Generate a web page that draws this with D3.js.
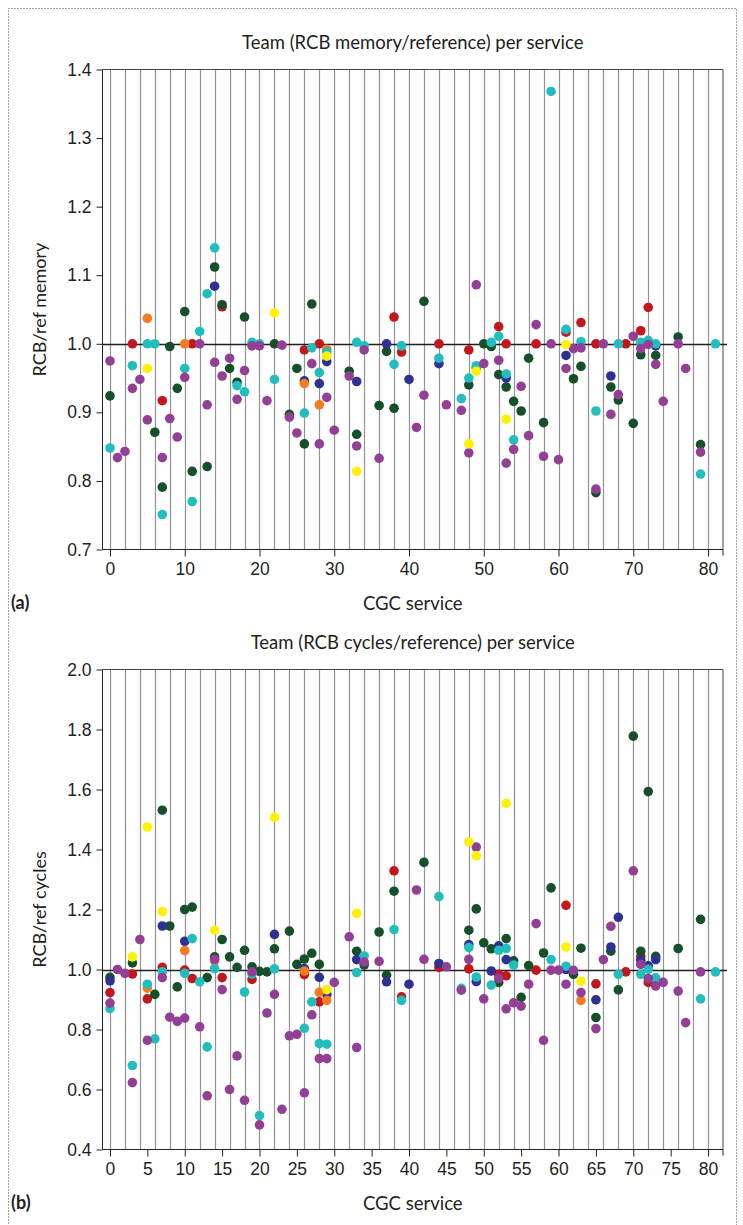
<!DOCTYPE html>
<html>
<head>
<meta charset="utf-8">
<script src="https://cdn.jsdelivr.net/npm/d3@7"></script>
<style>
  body { margin: 0; background: #fff; }
  svg { display: block; font-family: Lato, "Noto Sans", sans-serif; }
  .axis path, .axis line { stroke: #222; }
  .axis text { font-size: 17.5px; fill: #231f20; }
</style>
</head>
<body>
<script>
(function(){

//tick values for both panels
var memTicksX = [0, 10, 20, 30, 40, 50, 60, 70, 80];
var cycTicksX = [0, 5, 10, 15, 20, 25, 30, 35, 40, 45, 50, 55, 60, 65, 70, 75, 80];
var memTicksY = [0.7, 0.8, 0.9, 1.0, 1.1, 1.2, 1.3, 1.4];
var cycTicksY = [0.4, 0.6, 0.8, 1.0, 1.2, 1.4, 1.6, 1.8, 2.0];
var gridX = d3.range(0, 81, 2); //grey service lines every other service

//team colours (same order as the series arrays below)
var teamColors = ["#c1171d", "#15502a", "#2e3192", "#f47b20", "#22bebe", "#943f96", "#fff200"];

//panel (a): [service, RCB/ref memory]
var memRed = [[3,1.0],[7,0.917],[11,1.0],[15,1.054],[26,0.991],[28,1.0],[38,1.039],[39,0.988],[44,1.0],[48,0.991],[52,1.025],[53,1.0],[57,1.0],[61,1.017],[63,1.031],[65,1.0],[69,1.0],[71,1.019],[72,1.053]];
var memGreen = [[0,0.924],[6,0.871],[7,0.791],[8,0.996],[9,0.935],[10,1.047],[11,0.814],[13,0.821],[14,1.112],[15,1.057],[16,0.964],[17,0.944],[18,1.039],[22,1.0],[24,0.897],[25,0.964],[26,0.854],[27,1.058],[32,0.96],[33,0.868],[36,0.91],[37,0.989],[38,0.906],[42,1.062],[48,0.94],[49,0.965],[50,1.0],[51,0.996],[52,0.955],[53,0.937],[54,0.916],[55,0.902],[56,0.979],[58,0.885],[62,0.949],[63,0.967],[65,0.783],[67,0.937],[68,0.918],[70,0.884],[71,0.984],[73,0.983],[76,1.01],[79,0.853]];
var memNavy = [[14,1.084],[26,0.946],[28,0.942],[29,0.974],[33,0.945],[37,1.0],[40,0.948],[44,0.971],[53,0.95],[61,0.983],[67,0.953],[73,0.997]];
var memOrange = [[5,1.037],[10,1.0],[26,0.942],[28,0.911],[29,0.992]];
var memCyan = [[0,0.848],[3,0.968],[5,1.0],[6,1.0],[7,0.751],[10,0.964],[11,0.77],[12,1.018],[13,1.073],[14,1.14],[17,0.939],[18,0.93],[19,1.002],[20,1.0],[22,0.948],[26,0.899],[27,0.994],[28,0.958],[29,0.988],[33,1.002],[34,0.997],[38,0.97],[39,0.997],[44,0.979],[47,0.92],[48,0.95],[49,0.968],[51,1.002],[52,1.011],[53,0.956],[54,0.86],[59,1.368],[61,1.021],[63,1.003],[65,0.902],[68,1.0],[71,1.002],[72,1.005],[73,1.0],[79,0.81],[81,1.0]];
var memPurple = [[0,0.975],[1,0.834],[2,0.843],[3,0.935],[4,0.948],[5,0.889],[7,0.834],[8,0.891],[9,0.864],[10,0.951],[12,1.0],[13,0.911],[14,0.973],[15,0.953],[16,0.979],[17,0.919],[18,0.961],[19,0.997],[20,0.997],[21,0.917],[23,0.998],[24,0.893],[25,0.87],[27,0.971],[28,0.854],[29,0.922],[30,0.874],[32,0.953],[33,0.851],[34,0.991],[36,0.833],[41,0.878],[42,0.925],[45,0.911],[47,0.903],[48,0.841],[49,1.086],[50,0.971],[52,0.976],[53,0.826],[54,0.846],[55,0.938],[56,0.866],[57,1.028],[58,0.836],[59,1.0],[60,0.831],[61,0.964],[62,0.993],[63,0.994],[65,0.788],[66,1.0],[67,0.897],[68,0.926],[70,1.011],[71,0.993],[72,0.999],[73,0.97],[74,0.916],[76,1.0],[77,0.964],[79,0.842]];
var memYellow = [[5,0.964],[22,1.045],[29,0.982],[33,0.814],[48,0.854],[49,0.96],[53,0.89],[61,0.999]];

//panel (b): [service, RCB/ref cycles]
var cycRed = [[0,0.923],[3,0.985],[5,0.902],[7,1.007],[10,0.998],[11,0.97],[15,0.973],[19,0.967],[26,0.983],[28,0.892],[38,1.329],[39,0.909],[44,1.007],[48,1.002],[52,0.984],[53,0.979],[57,0.998],[61,1.214],[65,0.952],[69,0.992],[71,1.044],[72,0.957]];
var cycGreen = [[0,0.974],[3,1.022],[6,0.917],[7,1.531],[8,1.145],[9,0.942],[10,1.2],[11,1.208],[13,0.973],[14,1.042],[15,1.1],[16,1.042],[17,1.007],[18,1.064],[19,1.009],[20,0.994],[21,0.992],[22,1.069],[24,1.128],[25,1.017],[26,1.035],[27,1.054],[28,1.017],[33,1.061],[34,1.015],[36,1.125],[37,0.981],[38,1.261],[42,1.357],[48,1.131],[49,1.202],[50,1.089],[51,1.069],[52,0.957],[53,1.103],[54,1.029],[55,0.907],[56,1.013],[58,1.055],[59,1.272],[62,0.984],[63,1.071],[65,0.84],[67,1.061],[68,0.932],[70,1.778],[71,1.061],[72,1.593],[73,1.044],[76,1.07],[79,1.167]];
var cycNavy = [[0,0.962],[7,1.145],[10,1.094],[22,1.117],[26,1.003],[28,0.974],[29,0.917],[33,1.033],[37,0.959],[40,0.951],[44,1.02],[48,1.083],[49,0.96],[51,0.995],[52,1.079],[53,1.033],[61,1.0],[65,0.899],[67,1.075],[68,1.174],[71,1.031],[72,1.012],[73,1.033]];
var cycOrange = [[5,0.938],[10,1.063],[14,1.028],[26,0.995],[28,0.924],[29,0.897],[63,0.897]];
var cycCyan = [[0,0.87],[3,0.68],[5,0.951],[6,0.769],[7,0.992],[10,0.987],[11,1.103],[12,0.959],[13,0.742],[14,1.003],[18,0.925],[19,0.985],[20,0.513],[22,1.002],[26,0.804],[27,0.892],[28,0.753],[29,0.751],[33,0.99],[34,1.045],[38,1.133],[39,0.897],[44,1.243],[47,0.937],[48,1.073],[49,0.975],[51,0.948],[52,1.064],[53,1.07],[54,1.015],[59,1.033],[61,1.011],[68,0.984],[71,0.984],[72,1.001],[73,0.972],[79,0.902],[81,0.992]];
var cycPurple = [[0,0.888],[1,1.0],[2,0.987],[3,0.623],[4,1.1],[5,0.764],[7,0.973],[8,0.841],[9,0.827],[10,0.838],[12,0.809],[13,0.579],[14,1.034],[15,0.933],[16,0.6],[17,0.712],[18,0.564],[19,0.992],[20,0.482],[21,0.855],[22,0.917],[23,0.534],[24,0.779],[25,0.784],[26,0.589],[27,0.849],[28,0.703],[29,0.703],[30,0.957],[32,1.109],[33,0.74],[34,1.025],[36,1.027],[41,1.265],[42,1.034],[45,1.009],[47,0.931],[48,1.034],[49,1.408],[50,0.902],[52,0.97],[53,0.869],[54,0.889],[55,0.878],[56,0.951],[57,1.153],[58,0.764],[59,0.998],[60,0.998],[61,0.951],[62,0.997],[63,0.923],[65,0.803],[66,1.033],[67,1.144],[70,1.329],[71,1.017],[72,0.97],[73,0.945],[74,0.957],[76,0.928],[77,0.823],[79,0.992]];
var cycYellow = [[3,1.042],[5,1.475],[7,1.193],[14,1.131],[22,1.507],[29,0.933],[33,1.187],[48,1.425],[49,1.379],[53,1.554],[61,1.075],[63,0.961]];

var memSeries = [memRed, memGreen, memNavy, memOrange, memCyan, memPurple, memYellow];
var cycSeries = [cycRed, cycGreen, cycNavy, cycOrange, cycCyan, cycPurple, cycYellow];

var width = 743, height = 1225;

var svg = d3.select("body")
    .append("svg")
    .attr("width", width)
    .attr("height", height);

//dotted figure border
svg.append("rect")
    .attr("x", 8.5)
    .attr("y", 8.5)
    .attr("width", 728)
    .attr("height", 1240)
    .attr("fill", "none")
    .attr("stroke", "#444")
    .attr("stroke-width", 1)
    .attr("stroke-dasharray", "1,2");

setPanel({
    top: 69.5, bottom: 549.5,
    yDomain: [0.7, 1.4], yTicks: memTicksY, xTicks: memTicksX,
    series: memSeries,
    title: "Team (RCB memory/reference) per service",
    yLabel: "RCB/ref memory",
    tag: "(a)"
});

setPanel({
    top: 669.5, bottom: 1149.5,
    yDomain: [0.4, 2.0], yTicks: cycTicksY, xTicks: cycTicksX,
    series: cycSeries,
    title: "Team (RCB cycles/reference) per service",
    yLabel: "RCB/ref cycles",
    tag: "(b)"
});

//draw one scatter panel
function setPanel(p){
    var left = 102.5, right = 723;

    var x = d3.scaleLinear()
        .domain([-1, 82])
        .range([left, right]);

    var y = d3.scaleLinear()
        .domain(p.yDomain)
        .range([p.bottom, p.top]);

    var g = svg.append("g");

    //vertical grey lines
    g.selectAll(".grid")
        .data(gridX)
        .enter()
        .append("line")
        .attr("class", "grid")
        .attr("x1", function(d){ return Math.round(x(d)) + 0.5; })
        .attr("x2", function(d){ return Math.round(x(d)) + 0.5; })
        .attr("y1", p.top)
        .attr("y2", p.bottom)
        .attr("stroke", "#939395")
        .attr("stroke-width", 1.2);

    //frame top and right
    g.append("path")
        .attr("d", "M" + left + "," + p.top + "H" + right + "V" + p.bottom)
        .attr("fill", "none")
        .attr("stroke", "#444")
        .attr("stroke-width", 1);

    //reference line at 1.0
    g.append("line")
        .attr("x1", left)
        .attr("x2", right + 4)
        .attr("y1", Math.round(y(1)) + 0.5)
        .attr("y2", Math.round(y(1)) + 0.5)
        .attr("stroke", "#231f20")
        .attr("stroke-width", 1.3);

    //axes
    var xAxis = d3.axisBottom(x)
        .tickValues(p.xTicks)
        .tickSize(7)
        .tickPadding(6)
        .tickFormat(d3.format("d"));

    g.append("g")
        .attr("class", "axis")
        .attr("transform", "translate(0," + p.bottom + ")")
        .call(xAxis)
        .call(function(s){ s.select(".domain").attr("d", "M" + left + ",0H" + right + "V6"); });

    var yAxis = d3.axisLeft(y)
        .tickValues(p.yTicks)
        .tickSize(6)
        .tickPadding(5)
        .tickFormat(d3.format(".1f"));

    g.append("g")
        .attr("class", "axis")
        .attr("transform", "translate(" + left + ",0)")
        .call(yAxis)
        .call(function(s){ s.select(".domain").attr("d", "M0," + p.top + "V" + p.bottom); });

    //points, one group per team
    p.series.forEach(function(pts, i){
        g.append("g")
            .selectAll("circle")
            .data(pts)
            .enter()
            .append("circle")
            .attr("cx", function(d){ return x(d[0]); })
            .attr("cy", function(d){ return y(d[1]); })
            .attr("r", 4.8)
            .attr("fill", teamColors[i]);
    });

    //texts
    g.append("text")
        .attr("x", (left + right) / 2)
        .attr("y", p.top - 21)
        .attr("text-anchor", "middle")
        .attr("font-size", 18.5)
        .attr("fill", "#231f20")
        .text(p.title);

    g.append("text")
        .attr("transform", "translate(46," + (p.top + p.bottom) / 2 + ") rotate(-90)")
        .attr("text-anchor", "middle")
        .attr("font-size", 18)
        .attr("fill", "#231f20")
        .text(p.yLabel);

    g.append("text")
        .attr("x", (left + right) / 2)
        .attr("y", p.bottom + 60)
        .attr("text-anchor", "middle")
        .attr("font-size", 18.5)
        .attr("fill", "#231f20")
        .text("CGC service");

    g.append("text")
        .attr("x", 11)
        .attr("y", p.bottom + 59)
        .attr("font-size", 18)
        .attr("font-weight", "bold")
        .attr("fill", "#231f20")
        .text(p.tag);
}

})();
</script>
</body>
</html>
